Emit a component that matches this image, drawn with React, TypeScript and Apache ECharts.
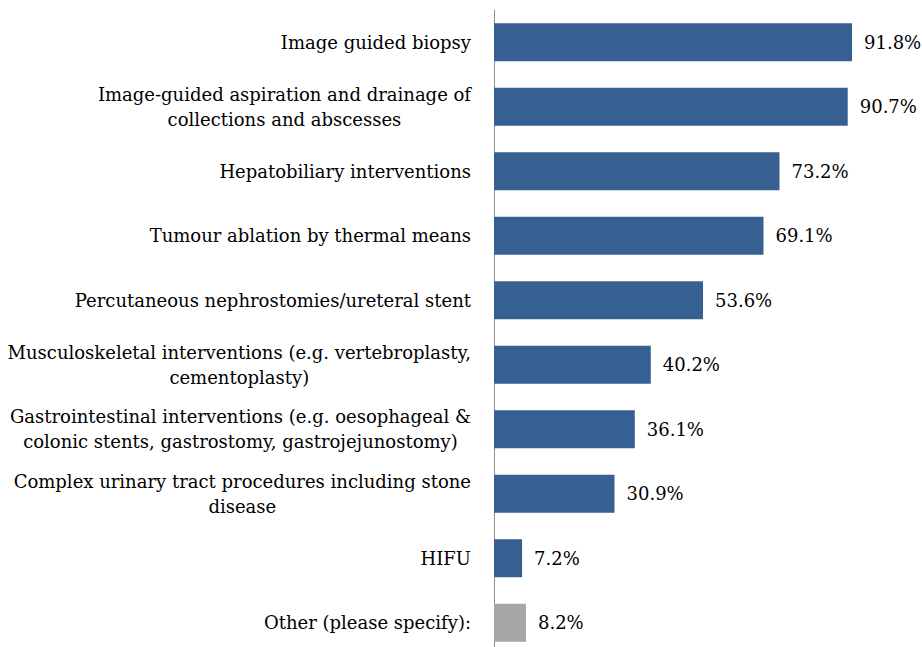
import React, { useEffect, useRef } from "react";
import * as echarts from "echarts";

const categories: string[] = [
  "Image guided biopsy",
  "Image-guided aspiration and drainage of\ncollections and abscesses",
  "Hepatobiliary interventions",
  "Tumour ablation by thermal means",
  "Percutaneous nephrostomies/ureteral stent",
  "Musculoskeletal interventions (e.g. vertebroplasty,\ncementoplasty)",
  "Gastrointestinal interventions (e.g. oesophageal &\ncolonic stents, gastrostomy, gastrojejunostomy)",
  "Complex urinary tract procedures including stone\ndisease",
  "HIFU",
  "Other (please specify):",
];

const values: number[] = [91.8, 90.7, 73.2, 69.1, 53.6, 40.2, 36.1, 30.9, 7.2, 8.2];

const BLUE = "#376092";
const GRAY = "#A6A6A6";
const FONT = "DejaVu Serif";

export default function App() {
  const ref = useRef<HTMLDivElement>(null);
  useEffect(() => {
    if (!ref.current) return;
    const chart = echarts.init(ref.current, null, { renderer: "svg" });
    chart.setOption({
      animation: false,
      backgroundColor: "#ffffff",
      grid: { left: 494, right: 38, top: 10, bottom: 0, containLabel: false },
      xAxis: {
        type: "value",
        min: 0,
        max: 100,
        show: false,
      },
      yAxis: {
        type: "category",
        inverse: true,
        data: categories,
        axisLine: { show: true, lineStyle: { color: "#8c8c8c", width: 1 } },
        axisTick: { show: false },
        splitLine: { show: false },
        axisLabel: {
          margin: 23,
          align: "right",
          formatter: (v: string) =>
            v
              .split("\n")
              .map((l) => "{a|" + l + "}")
              .join("\n"),
          rich: {
            a: {
              align: "center",
              fontFamily: FONT,
              fontSize: 18,
              lineHeight: 25,
              color: "#000000",
            },
          },
        },
      },
      series: [
        {
          type: "bar",
          data: values.map((v, i) => ({
            value: v,
            itemStyle: { color: i === values.length - 1 ? GRAY : BLUE },
          })),
          barWidth: 38,
          label: {
            show: true,
            position: "right",
            distance: 12,
            formatter: (p: any) => p.value.toFixed(1) + "%",
            fontFamily: FONT,
            fontSize: 18,
            color: "#000000",
          },
        },
      ],
    });
    return () => chart.dispose();
  }, []);
  return (
    <div
      style={{
        width: 922,
        height: 647,
        position: "absolute",
        left: 0,
        top: 0,
        overflow: "hidden",
        background: "#ffffff",
      }}
    >
      <div ref={ref} style={{ width: 922, height: 655 }} />
    </div>
  );
}
